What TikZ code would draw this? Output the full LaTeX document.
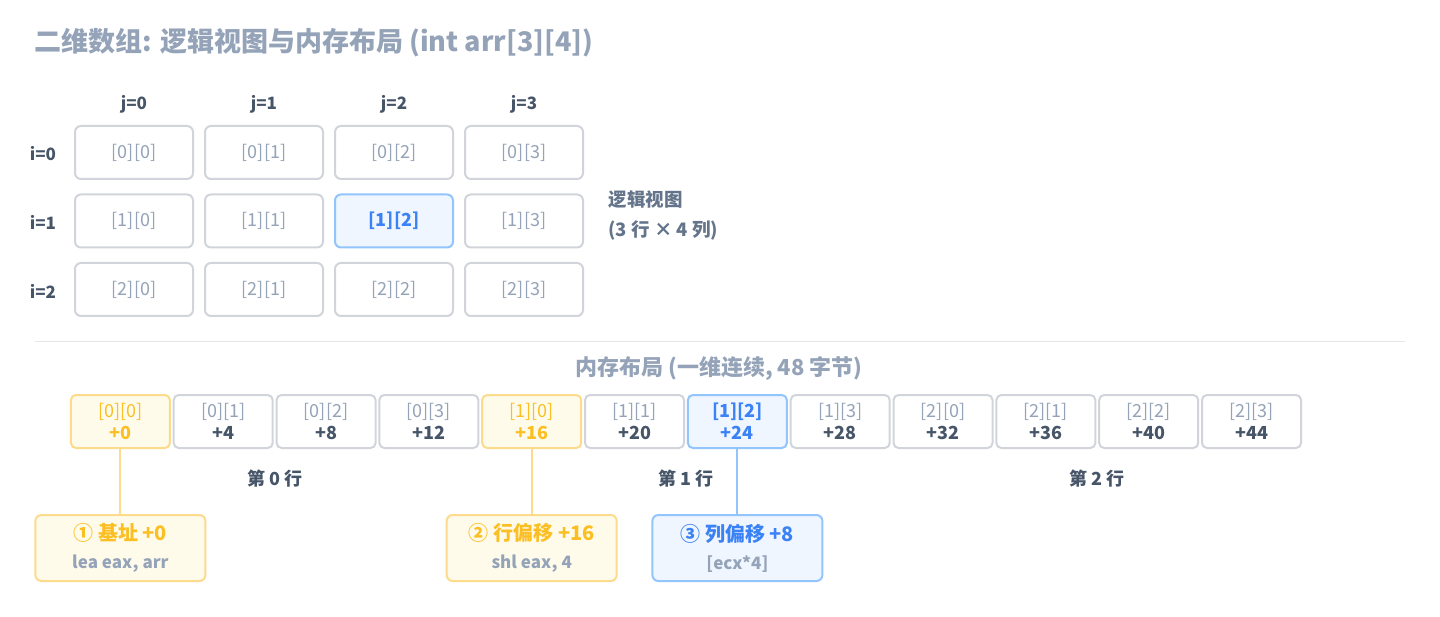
\documentclass[tikz,border=0pt]{standalone}
\usepackage{fontspec}
\setmainfont{Noto Sans CJK SC}
\usetikzlibrary{calc}

\definecolor{titletxt}{HTML}{94A3B8}
\definecolor{darktxt}{HTML}{475569}
\definecolor{sidetxt}{HTML}{64748B}
\definecolor{cellline}{HTML}{D1D5DB}
\definecolor{sepline}{HTML}{E5E7EB}
\definecolor{ambline}{HTML}{FCDC8C}
\definecolor{ambfill}{HTML}{FFFBEB}
\definecolor{ambtxt}{HTML}{FBBF24}
\definecolor{blueline}{HTML}{93C5FD}
\definecolor{bluefill}{HTML}{EFF6FF}
\definecolor{bluetxt}{HTML}{3B82F6}

\tikzset{
  gridcell/.style={draw, line width=2pt, rounded corners=6pt, minimum width=118pt,
    minimum height=53pt, inner sep=0pt, font=\fontsize{18}{22}\selectfont},
  memcell/.style={draw, line width=2pt, rounded corners=5pt, minimum width=99pt,
    minimum height=53pt, inner sep=0pt, align=center, font=\fontsize{18}{22}\selectfont,
    execute at begin node={\vspace*{4pt}}},
  notebox/.style={draw, line width=2pt, rounded corners=6pt, minimum width=170pt,
    minimum height=66pt, inner sep=0pt, align=center, font=\fontsize{17}{28}\selectfont,
    execute at begin node={\vspace*{5pt}}},
  headlbl/.style={text=darktxt, font=\fontsize{17}{20}\selectfont\bfseries},
  grouplbl/.style={text=darktxt, font=\fontsize{18}{22}\selectfont\bfseries},
  link/.style={line width=2pt}
}

\begin{document}
\begin{tikzpicture}[x=1pt, y=-1pt]
\useasboundingbox[fill=white] (0,0) rectangle (1440,617);

\node[anchor=west, text=titletxt, font=\fontsize{27}{32}\selectfont\bfseries] (title) at (31,43)
  {二维数组: 逻辑视图与内存布局 (int arr[3][4])};

% logical view
\foreach \j in {0,...,3}
  \node[headlbl] (col-\j) at (134+130*\j, 104) {j=\j};
\foreach \i in {0,1,2}
  \node[headlbl] (row-\i) at (43, 154+68.5*\i) {i=\i};
\foreach \i in {0,1,2}{
  \foreach \j in {0,...,3}{
    \def\bc{cellline}\def\fc{white}\def\tc{titletxt}\def\ft{}
    \ifnum\i\j=12 \def\bc{blueline}\def\fc{bluefill}\def\tc{bluetxt}\def\ft{\bfseries}\fi
    \node[gridcell, draw=\bc, fill=\fc, text=\tc] (g-\i-\j) at (134+130*\j, 152.5+68.5*\i) {\ft[\i][\j]};
  }
}
\node[anchor=west, text=sidetxt, align=left, font=\fontsize{18.5}{30}\selectfont\bfseries] (side) at (605,215)
  {逻辑视图\\(3 行 × 4 列)};

\coordinate (sep-l) at (35,342);
\coordinate (sep-r) at (1405,342);
\draw[sepline, line width=1pt] (sep-l) -- (sep-r);

% memory layout
\node[text=titletxt, font=\fontsize{22}{26}\selectfont\bfseries] (memtitle) at (719,369)
  {内存布局 (一维连续, 48 字节)};
\foreach \k in {0,...,11}{
  \pgfmathtruncatemacro\ri{int(\k/4)}
  \pgfmathtruncatemacro\ci{mod(\k,4)}
  \pgfmathtruncatemacro\off{4*\k}
  \def\bc{cellline}\def\fc{white}\def\tc{titletxt}\def\oc{darktxt}\def\ft{}
  \ifnum\k=0 \def\bc{ambline}\def\fc{ambfill}\def\tc{ambtxt}\def\oc{ambtxt}\fi
  \ifnum\k=4 \def\bc{ambline}\def\fc{ambfill}\def\tc{ambtxt}\def\oc{ambtxt}\fi
  \ifnum\k=6 \def\bc{blueline}\def\fc{bluefill}\def\tc{bluetxt}\def\oc{bluetxt}\def\ft{\bfseries}\fi
  \node[memcell, draw=\bc, fill=\fc, text=\tc] (m-\k) at (120.4+102.83*\k, 421.5)
    {{\ft[\ri][\ci]}\\{\color{\oc}\bfseries+\off}};
}
\node[grouplbl] (grp-0) at ($(m-0)!0.5!(m-3)+(0,57.5)$) {第 0 行};
\node[grouplbl] (grp-1) at ($(m-4)!0.5!(m-7)+(0,57.5)$) {第 1 行};
\node[grouplbl] (grp-2) at ($(m-8)!0.5!(m-11)+(0,57.5)$) {第 2 行};

% address steps
\node[notebox, draw=ambline, fill=ambfill] (b-0) at ($(m-0)+(0,126.5)$)
  {{\color{ambtxt}\fontsize{20}{24}\selectfont\bfseries ① 基址 +0}\\
   {\color{titletxt}\bfseries lea eax, arr}};
\node[notebox, draw=ambline, fill=ambfill] (b-1) at ($(m-4)+(0,126.5)$)
  {{\color{ambtxt}\fontsize{20}{24}\selectfont\bfseries ② 行偏移 +16}\\
   {\color{titletxt}\bfseries shl eax, 4}};
\node[notebox, draw=blueline, fill=bluefill] (b-2) at ($(m-6)+(0,126.5)$)
  {{\color{bluetxt}\fontsize{20}{24}\selectfont\bfseries ③ 列偏移 +8}\\
   {\color{titletxt}\bfseries [ecx*4]}};
\draw[link, ambline] (m-0.south) -- (b-0.north);
\draw[link, ambline] (m-4.south) -- (b-1.north);
\draw[link, blueline] (m-6.south) -- (b-2.north);
\end{tikzpicture}
\end{document}
